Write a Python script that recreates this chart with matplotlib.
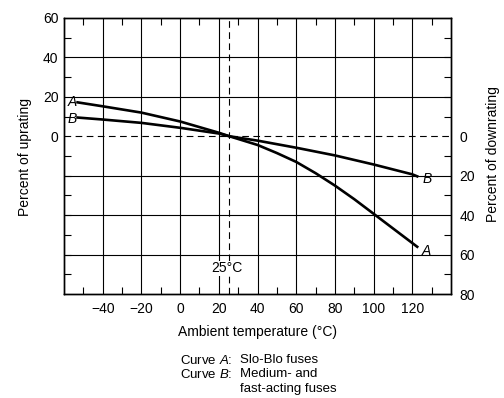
import matplotlib
matplotlib.use("Agg")
import matplotlib.pyplot as plt
import numpy as np

plt.rcParams["font.family"] = ["Liberation Sans", "DejaVu Sans"]
plt.rcParams["mathtext.fontset"] = "custom"
plt.rcParams["mathtext.rm"] = "Liberation Sans"
plt.rcParams["mathtext.it"] = "Liberation Sans:italic"

# curve A: Slo-Blo fuses, curve B: medium- and fast-acting fuses
temp_a = [-53, -40, -20, 0, 20, 25.5, 40, 50, 60, 70, 80, 90, 100, 122.5]
rate_a = [17.2, 15.2, 12, 7.5, 1.8, 0, -4.4, -8.5, -13, -18.7, -25, -31.9, -39.3, -56]
temp_b = [-53, -40, -20, 0, 20, 25.5, 40, 60, 80, 100, 120, 122.5]
rate_b = [9.5, 8.5, 6.8, 4.3, 1.4, 0, -2.2, -5.8, -9.7, -14.3, -19.3, -20.3]

x_ticks = [-40, -20, 0, 20, 40, 60, 80, 100, 120]
up_ticks = [0, 20, 40, 60]
down_ticks = [0, 20, 40, 60, 80]

fig = plt.figure(figsize=(5.04, 3.98), dpi=100)
ax = fig.add_axes([0.127, 0.261, 0.768, 0.694])
ax.set_xlim(-60, 140)
ax.set_ylim(-80, 60)

for x in x_ticks:
    ax.axvline(x, color="black", lw=0.8, zorder=1)
for y in range(-60, 60, 20):
    if y != 0:
        ax.axhline(y, color="black", lw=0.8, zorder=1)
ax.axhline(0, color="black", lw=0.8, ls=(0, (6, 4)), zorder=1)
ax.axvline(25, color="black", lw=0.8, ls=(0, (6, 4)), zorder=1)

ax.plot(temp_a, rate_a, color="black", lw=1.9, zorder=3)
ax.plot(temp_b, rate_b, color="black", lw=1.9, zorder=3)

lab = dict(fontsize=10, style="italic", va="center", ha="center")
ax.text(-55.8, 17.2, "A", **lab)
ax.text(-55.8, 9.0, "B", **lab)
ax.text(127.8, -21.6, "B", **lab)
ax.text(127.3, -58, "A", **lab)
ax.text(24.4, -67, "25°C", fontsize=10, ha="center", va="center", zorder=2,
        bbox=dict(facecolor="white", edgecolor="none", pad=0.5))

ax.set_xticks(x_ticks)
ax.set_xticklabels([str(v).replace("-", "\u2212") for v in x_ticks])
ax.set_xticks(np.arange(-50, 140, 10), minor=True)
ax.set_yticks(up_ticks)
ax.set_yticks(np.arange(-70, 60, 10), minor=True)
ax.tick_params(axis="x", which="major", length=0, labelsize=10, pad=6)
ax.tick_params(axis="y", which="major", length=0, labelsize=10, pad=4)
ax.tick_params(which="minor", direction="in", length=5, width=0.8, top=True, bottom=True, left=True)

ax2 = ax.twinx()
ax2.set_ylim(80, -60)
ax2.set_yticks(down_ticks)
ax2.set_yticks(np.arange(-50, 80, 10), minor=True)
ax2.tick_params(which="major", length=0, labelsize=10, pad=6)
ax2.tick_params(which="minor", direction="in", length=5, width=0.8)

for a in (ax, ax2):
    for s in a.spines.values():
        s.set_linewidth(1.0)

fig.text(0.05, 0.605, "Percent of uprating", rotation=90, fontsize=10, ha="center", va="center")
fig.text(0.978, 0.612, "Percent of downrating", rotation=90, fontsize=10, ha="center", va="center")
fig.text(0.51, 0.166, "Ambient temperature (°C)", fontsize=10, ha="center", va="center")

cap = dict(fontsize=9.5, va="center", ha="left")
fig.text(0.357, 0.095, "Curve $A$:", **cap)
fig.text(0.476, 0.095, "Slo-Blo fuses", **cap)
fig.text(0.357, 0.060, "Curve $B$:", **cap)
fig.text(0.476, 0.060, "Medium- and", **cap)
fig.text(0.476, 0.022, "fast-acting fuses", **cap)

fig.savefig("out.png", dpi=100)
